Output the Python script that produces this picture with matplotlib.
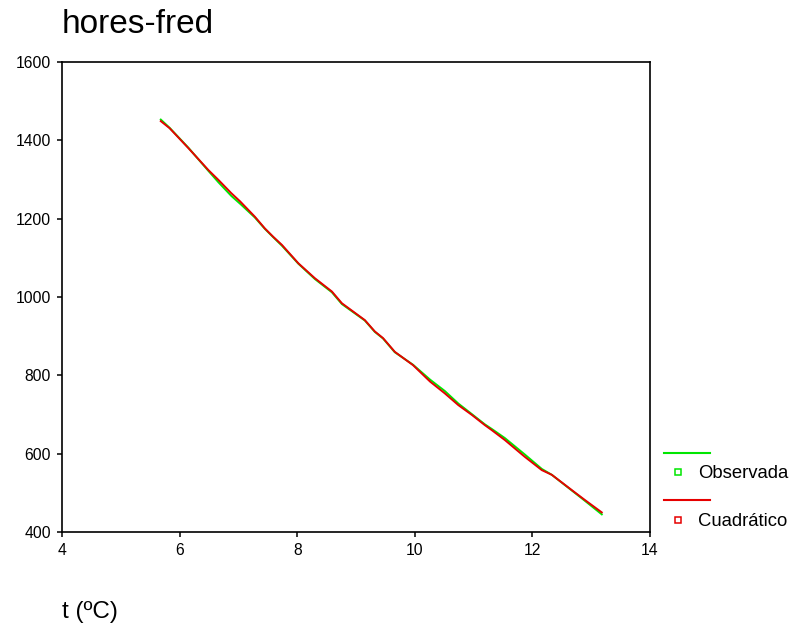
import matplotlib
matplotlib.use("Agg")
import matplotlib.pyplot as plt
from matplotlib.lines import Line2D

plt.rcParams['font.family'] = ['Liberation Sans', 'DejaVu Sans']

title = "hores-fred"
x_label = "t (ºC)"
series_names = ["Observada", "Cuadrático"]

temp = [5.68, 5.83, 6.15, 6.49, 6.66, 6.88, 7.03, 7.28, 7.45, 7.59, 7.74,
        8.02, 8.30, 8.59, 8.76, 9.15, 9.32, 9.46, 9.66, 9.97, 10.26, 10.51,
        10.74, 10.97, 11.19, 11.31, 11.53, 11.87, 12.16, 12.33, 12.67, 12.89, 13.18]

observada = [1453, 1432, 1381, 1322, 1293, 1258, 1238, 1203, 1174, 1153, 1131,
             1085, 1046, 1012, 982, 940, 911, 894, 859, 827, 789, 760,
             728, 701, 675, 663, 640, 598, 561, 546, 506, 480, 445]

cuadratico = [1449, 1431, 1380, 1324, 1299, 1265, 1244, 1205, 1175, 1154, 1133,
              1086, 1048, 1014, 984, 941, 912, 895, 860, 826, 784, 754,
              724, 699, 673, 660, 635, 592, 558, 546, 507, 482, 450]

x_ticks = [4, 6, 8, 10, 12, 14]
y_ticks = [400, 600, 800, 1000, 1200, 1400, 1600]

green = '#00e600'
red = '#e60000'

W, H = 794, 631
fig = plt.figure(figsize=(W / 100, H / 100), dpi=100)
ax = fig.add_axes([62 / W, 1 - 532 / H, (650 - 62) / W, (532 - 62) / H])

ax.plot(temp, observada, color=green, lw=1.4)
ax.plot(temp, cuadratico, color=red, lw=1.4)

ax.set_xlim(4, 14)
ax.set_ylim(400, 1600)
ax.set_xticks(x_ticks)
ax.set_yticks(y_ticks)
ax.tick_params(direction='out', length=3.8, width=1.1, labelsize=11.3, pad=4)
for s in ax.spines.values():
    s.set_linewidth(1.2)

fig.text(62 / W, 1 - 33 / H, title, fontsize=24, ha='left', va='baseline')
fig.text(62 / W, 1 - 612 / H, x_label, fontsize=17.5, ha='left', va='center')

def fx(px):
    return px / W

def fy(py):
    return 1 - py / H

entries = [(series_names[0], green, 453, 472), (series_names[1], red, 500, 520)]
for name, col, ly, my in entries:
    fig.add_artist(Line2D([fx(664), fx(710)], [fy(ly), fy(ly)], color=col, lw=1.5))
    fig.add_artist(Line2D([fx(678)], [fy(my)], marker='s', markersize=5,
                          markerfacecolor='white', markeredgecolor=col,
                          markeredgewidth=1.1, linestyle='none'))
    fig.text(fx(698), fy(my + 1), name, fontsize=13.3, ha='left', va='center')

fig.savefig("out.png", dpi=100)
